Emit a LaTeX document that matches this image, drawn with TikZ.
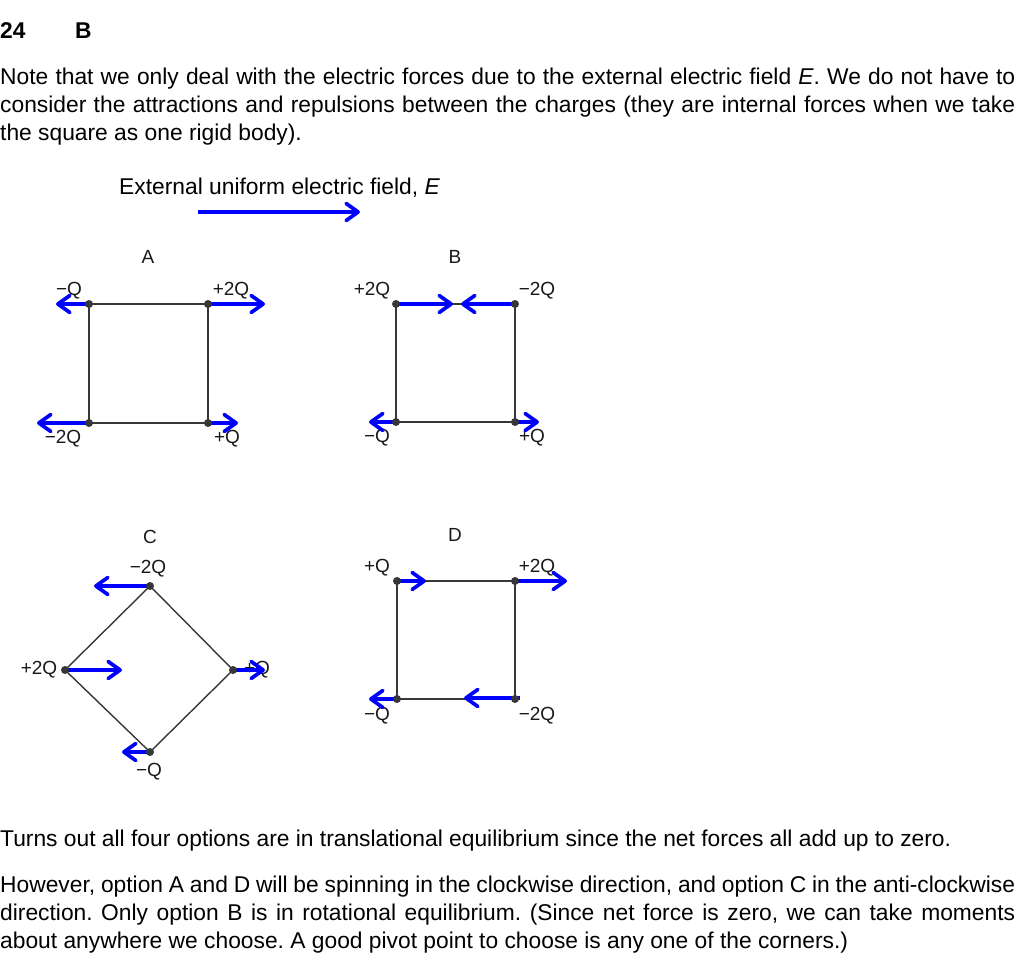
\documentclass[tikz,border=0pt]{standalone}
\usepackage{fontspec}
\setmainfont{Liberation Sans}
\usetikzlibrary{arrows.meta}
\definecolor{fblue}{RGB}{0,0,255}
\definecolor{edge}{RGB}{55,55,55}
\begin{document}
\frenchspacing
\begin{tikzpicture}[x=1pt,y=-1pt,
  body/.style={anchor=base west,inner sep=0pt,font=\fontsize{22.8}{28}\selectfont},
  lbl/.style={inner sep=0pt,font=\fontsize{19}{21}\selectfont,text=black!90},
  sq/.style={draw=edge,line width=1.4pt},
  force/.style={draw=fblue,line width=3.9pt,-{Straight Barb[length=12pt,width=17pt,line width=3.7pt,round]}},
  dot/.style={circle,fill=edge,inner sep=0pt,minimum size=8pt}]
\useasboundingbox (0,0) rectangle (1015,977);

% header and text
\node[body] (num) at (0,38) {\bfseries 24};
\node[body] (ans) at (75,38) {\bfseries B};
\node[body] (p1a) at (0,84) {\makebox[1015pt][s]{Note that we only deal with the electric forces due to the external electric field \textit{E}. We do not have to}};
\node[body] (p1b) at (0,112) {\makebox[1015pt][s]{consider the attractions and repulsions between the charges (they are internal forces when we take}};
\node[body] (p1c) at (0,140) {the square as one rigid body).};
\node[body] (cap) at (119,194) {External uniform electric field, \textit{E}};
\coordinate (f0) at (198,212);
\coordinate (f1) at (360,212);
\draw[force] (f0) -- (f1);

% ---------- A ----------
\node[lbl] (tA) at (148,257) {A};
\coordinate (A1) at (89,304);
\coordinate (A2) at (208,304);
\coordinate (A3) at (208,423);
\coordinate (A4) at (89,423);
\draw[sq] (A1) -- (A2) -- (A3) -- (A4) -- cycle;
\node[lbl] (lA1) at (69,291) {−Q};
\node[lbl] (lA2) at (231,291) {+2Q};
\node[lbl] (lA3) at (227,439) {+Q};
\node[lbl] (lA4) at (63,439) {−2Q};
\coordinate (eA1) at (56,304);
\coordinate (eA2) at (265,304);
\coordinate (eA3) at (238,423);
\coordinate (eA4) at (37,423);
\draw[force] (A1) -- (eA1);
\draw[force] (A2) -- (eA2);
\draw[force] (A3) -- (eA3);
\draw[force] (A4) -- (eA4);
\foreach \c in {A1,A2,A3,A4} \node[dot] at (\c) {};

% ---------- B ----------
\node[lbl] (tB) at (455,257) {B};
\coordinate (B1) at (396,304);
\coordinate (B2) at (515,304);
\coordinate (B3) at (515,422);
\coordinate (B4) at (396,422);
\draw[sq] (B1) -- (B2) -- (B3) -- (B4) -- cycle;
\node[lbl] (lB1) at (372,291) {+2Q};
\node[lbl] (lB2) at (537,291) {−2Q};
\node[lbl] (lB3) at (532,438) {+Q};
\node[lbl] (lB4) at (377,438) {−Q};
\coordinate (eB1) at (453,304);
\coordinate (eB2) at (461,304);
\coordinate (eB3) at (539,422);
\coordinate (eB4) at (369,422);
\draw[force] (B1) -- (eB1);
\draw[force] (B2) -- (eB2);
\draw[force] (B3) -- (eB3);
\draw[force] (B4) -- (eB4);
\foreach \c in {B1,B2,B3,B4} \node[dot] at (\c) {};

% ---------- C ----------
\node[lbl] (tC) at (150,537) {C};
\coordinate (C1) at (150,586);
\coordinate (C2) at (233,670);
\coordinate (C3) at (150,752);
\coordinate (C4) at (65,670);
\draw[sq] (C1) -- (C2) -- (C3) -- (C4) -- cycle;
\node[lbl] (lC1) at (148,569) {−2Q};
\node[lbl] (lC2) at (257,670) {+Q};
\node[lbl] (lC3) at (149,772) {−Q};
\node[lbl] (lC4) at (39,670) {+2Q};
\coordinate (eC1) at (94,586);
\coordinate (eC2) at (265,670);
\coordinate (eC3) at (122,752);
\coordinate (eC4) at (122,670);
\draw[force] (C1) -- (eC1);
\draw[force] (C2) -- (eC2);
\draw[force] (C3) -- (eC3);
\draw[force] (C4) -- (eC4);
\foreach \c in {C1,C2,C3,C4} \node[dot] at (\c) {};

% ---------- D ----------
\node[lbl] (tD) at (455,535) {D};
\coordinate (D1) at (397,581);
\coordinate (D2) at (515,581);
\coordinate (D3) at (515,699);
\coordinate (D4) at (397,699);
\draw[sq] (D1) -- (D2) -- (D3) -- (D4) -- cycle;
\node[lbl] (lD1) at (377,568) {+Q};
\node[lbl] (lD2) at (537,568) {+2Q};
\node[lbl] (lD3) at (537,716) {−2Q};
\node[lbl] (lD4) at (377,716) {−Q};
\coordinate (sD3) at (520,698);
\coordinate (eD1) at (426,581);
\coordinate (eD2) at (567,581);
\coordinate (eD3) at (464,698);
\coordinate (eD4) at (369,699);
\draw[force] (D1) -- (eD1);
\draw[force] (D2) -- (eD2);
\draw[force] (sD3) -- (eD3);
\draw[force] (D4) -- (eD4);
\foreach \c in {D1,D2,D3,D4} \node[dot] at (\c) {};

% bottom text
\node[body] (p2) at (0,846) {Turns out all four options are in translational equilibrium since the net forces all add up to zero.};
\node[body] (p3a) at (0,892) {\makebox[1015pt][s]{However, option A and D will be spinning in the clockwise direction, and option C in the anti-clockwise}};
\node[body] (p3b) at (0,920) {\makebox[1015pt][s]{direction. Only option B is in rotational equilibrium. (Since net force is zero, we can take moments}};
\node[body] (p3c) at (0,948) {about anywhere we choose. A good pivot point to choose is any one of the corners.)};
\end{tikzpicture}
\end{document}
